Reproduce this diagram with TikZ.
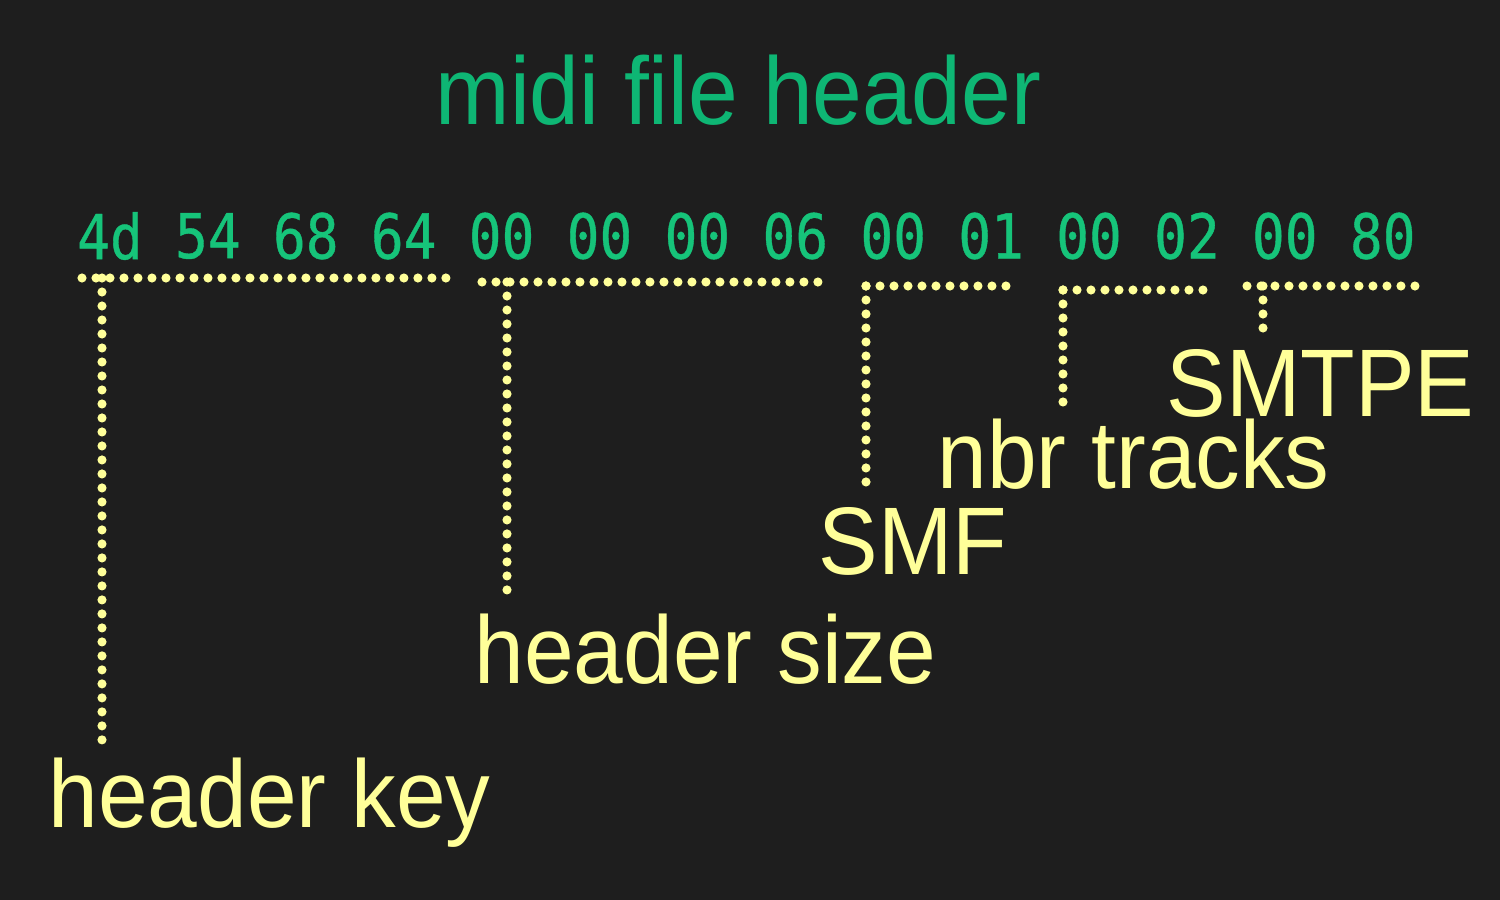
\documentclass[tikz,border=0pt]{standalone}
\usepackage{fontspec}
\setmainfont{Liberation Sans}[FakeStretch=0.93]
\newfontfamily\hexfont{DejaVu Sans Mono}[FakeStretch=0.88, FakeBold=0.6]

\definecolor{bgdark}{RGB}{30,30,30}
\definecolor{hexgreen}{RGB}{22,196,122}
\definecolor{titlegreen}{RGB}{14,182,116}
\definecolor{notecolor}{RGB}{255,255,153}

\tikzset{
    hexbyte/.style={text=hexgreen, font=\hexfont\fontsize{17.6}{20}\selectfont, inner sep=0},
    note/.style={text=notecolor, font=\fontsize{27.3}{32}\selectfont, anchor=base west, inner sep=0},
    dotline/.style={draw=notecolor, line width=2.6pt, line cap=round, dash pattern=on 0pt off 3.98pt},
    stem/.style={dotline, shorten >=1.1mm},
}

\begin{document}
\begin{tikzpicture}[x=0.01cm, y=-0.01cm]
        % Background:
        \fill[bgdark] (0, 0) rectangle (1500, 900);
        \useasboundingbox (0, 0) rectangle (1500, 900);

        % Title:
        \node[note, text=titlegreen] (title) at (435, 124) {midi file header};

        % Bytes:
        \foreach \b [count=\i] in {4d, 54, 68, 64, 00, 00, 00, 06, 00, 01, 00, 02, 00, 80}
            \node[hexbyte] (b\i) at ({110 + 97.9*(\i - 1)}, 236) {\b};

        % Labels:
        \node[note] (hkey)    at (48, 827)   {header key};
        \node[note] (hsize)   at (474, 683)  {header size};
        \node[note] (smf)     at (818, 574)  {SMF};
        \node[note] (ntracks) at (937, 488)  {nbr tracks};
        \node[note] (smtpe)   at (1166, 416) {SMTPE};

        % Bracket corners:
        \coordinate (hk-l) at (82, 278);    \coordinate (hk-r) at (447, 278);   \coordinate (hk-s) at (102, 278);
        \coordinate (hs-l) at (482, 282);   \coordinate (hs-r) at (819, 282);   \coordinate (hs-s) at (507, 282);
        \coordinate (sf-l) at (866, 286);   \coordinate (sf-r) at (1007, 286);
        \coordinate (nt-l) at (1063, 290);  \coordinate (nt-r) at (1204, 290);
        \coordinate (sp-l) at (1247, 286);  \coordinate (sp-r) at (1416, 286);  \coordinate (sp-s) at (1263, 286);

        % Brackets:
        \draw[dotline] (hk-l) -- (hk-r);
        \draw[stem] (hk-s) -- (hk-s |- hkey.north);
        \draw[dotline] (hs-l) -- (hs-r);
        \draw[stem] (hs-s) -- (hs-s |- hsize.north);
        \draw[dotline] (sf-l) -- (sf-r);
        \draw[stem] (sf-l) -- (sf-l |- smf.north);
        \draw[dotline] (nt-l) -- (nt-r);
        \draw[stem] (nt-l) -- (nt-l |- ntracks.north);
        \draw[dotline] (sp-l) -- (sp-r);
        \draw[stem] (sp-s) -- (sp-s |- smtpe.north);
\end{tikzpicture}
\end{document}
